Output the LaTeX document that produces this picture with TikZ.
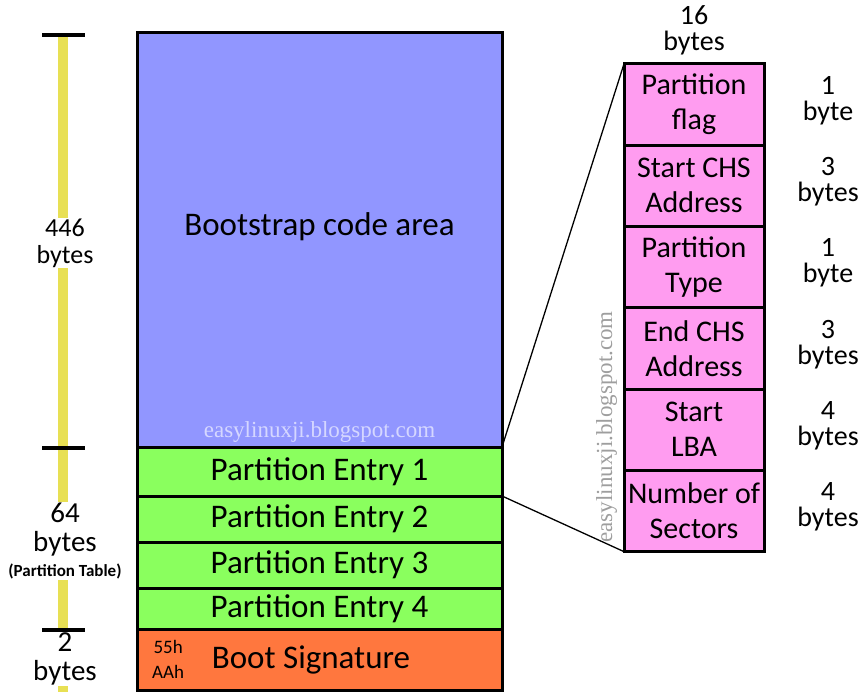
\documentclass[tikz,border=0pt]{standalone}
\usepackage{fontspec}
\setmainfont{Carlito}
\newfontfamily\wmfont{Liberation Serif}
\usetikzlibrary{positioning}
\definecolor{codeblue}{HTML}{9196FF}
\definecolor{entrygreen}{HTML}{8AFF5E}
\definecolor{sigorange}{HTML}{FF773E}
\definecolor{fieldpink}{HTML}{FF9CF0}
\definecolor{rulerbar}{HTML}{E8E054}
\tikzset{
  region/.style={draw, line width=3pt, minimum width=365pt, outer sep=0pt,
                 inner sep=0pt, font=\fontsize{33}{36}\selectfont},
  entry/.style={region, fill=entrygreen},
  field/.style={draw, line width=3pt, minimum width=140pt, minimum height=81.3pt,
                outer sep=0pt, inner sep=0pt, fill=fieldpink, align=center,
                font=\fontsize{30}{35}\selectfont},
  size/.style={align=center, font=\fontsize{28}{26}\selectfont, inner sep=1pt},
  sizelbl/.style={size, fill=white},
  tick/.style={line width=4pt},
  watermark/.style={font=\wmfont\fontsize{23}{23}\selectfont},
}

\begin{document}
\begin{tikzpicture}[x=1pt, y=-1pt]
  \useasboundingbox (0,0) rectangle (862,692);
  % MBR layout, 512 bytes
  \node[region, fill=codeblue, minimum height=414pt] (code) at (319.5,240) {\raisebox{32pt}{Bootstrap code area}};
  \node[entry, minimum height=49pt, below=0pt of code] (pe1) {Partition Entry 1};
  \node[entry, minimum height=46pt, below=0pt of pe1] (pe2) {Partition Entry 2};
  \node[entry, minimum height=46pt, below=0pt of pe2] (pe3) {Partition Entry 3};
  \node[entry, minimum height=41pt, below=0pt of pe3] (pe4) {Partition Entry 4};
  \node[region, fill=sigorange, minimum height=61pt, below=0pt of pe4] (sig) {\hspace{-17pt}Boot Signature};
  \node[align=center, inner sep=0pt, font=\fontsize{19}{25}\selectfont, right=15pt of sig.west] (magic) {55h\\AAh};
  \node[watermark, text=white!62!codeblue, above=1pt of code.south] (wm1) {easylinuxji.blogspot.com};

  % one 16-byte partition entry
  \node[field] (flag) at (694,104.5) {Partition\\flag};
  \node[field, below=0pt of flag] (chs1) {Start CHS\\Address};
  \node[field, below=0pt of chs1] (ptype) {Partition\\Type};
  \node[field, below=0pt of ptype] (chs2) {End CHS\\Address};
  \node[field, below=0pt of chs2] (lba) {Start\\LBA};
  \node[field, below=0pt of lba] (nsec) {Number of\\Sectors};
  \node[size, above=8pt of flag] (width) {16\\bytes};
  \node[watermark, text=black!38, rotate=90, anchor=base west] (wm2) at (612,546) {easylinuxji.blogspot.com};
  \draw[line width=1.3pt] (pe1.north east) -- (flag.north west);
  \draw[line width=1.3pt] (pe1.south east) -- (nsec.south west);

  \coordinate (bytecol) at (828,0);
  \node[size, yshift=4pt] at (flag -| bytecol) {1\\byte};
  \node[size, yshift=4pt] at (chs1 -| bytecol) {3\\bytes};
  \node[size, yshift=4pt] at (ptype -| bytecol) {1\\byte};
  \node[size, yshift=4pt] at (chs2 -| bytecol) {3\\bytes};
  \node[size, yshift=4pt] at (lba -| bytecol) {4\\bytes};
  \node[size, yshift=4pt] at (nsec -| bytecol) {4\\bytes};

  % ruler on the left
  \coordinate (r0) at (63,35);
  \coordinate (r1) at (63,448);
  \coordinate (r2) at (63,630);
  \coordinate (r3) at (63,692);
  \draw[rulerbar, line width=10pt] (r0) -- (r3);
  \foreach \t in {r0,r1,r2}
    \draw[tick] ([xshift=-21pt]\t) -- ([xshift=22pt]\t);
  \node[sizelbl, font=\fontsize{26}{27}\selectfont] (boot446) at (65,243) {446\\bytes};
  \node[sizelbl, font=\fontsize{29}{29}\selectfont] (tbl64) at (65,541) {64\\bytes\\[-4pt]{\bfseries\fontsize{17}{18}\selectfont(Partition Table)}};
  \node[sizelbl, font=\fontsize{29}{29}\selectfont] (sig2) at (65,659) {2\\bytes};
\end{tikzpicture}
\end{document}
